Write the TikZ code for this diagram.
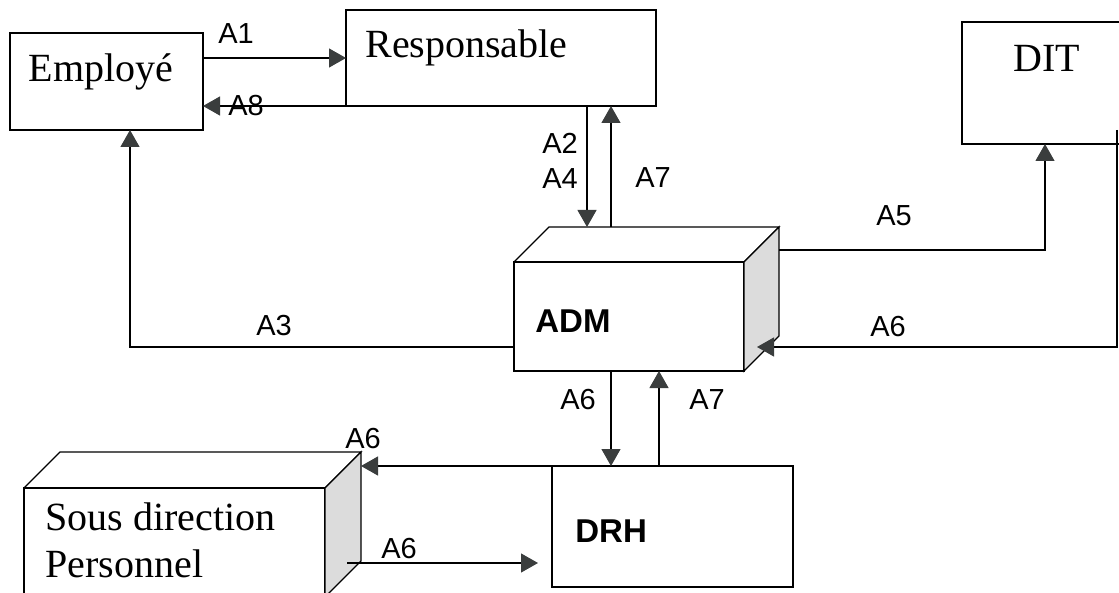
\documentclass[tikz,border=0pt]{standalone}
\usepackage{fontspec}
\setmainfont{Liberation Serif}
\setsansfont{Liberation Sans}
\usetikzlibrary{arrows.meta,positioning,calc}
\definecolor{tipgray}{HTML}{3A3D3D}
\definecolor{sidegray}{HTML}{DCDCDC}
\tikzset{
  >={Triangle[length=8.5pt,width=9.5pt,color=tipgray]},
  box/.style={draw, line width=0.7pt, inner sep=0pt, outer sep=0pt, anchor=north west},
  flow/.style={line width=0.6pt},
  lbl/.style={font=\fontsize{14.5}{16}\sffamily, inner sep=0pt},
  boxtext/.style={font=\fontsize{20}{23.5}\selectfont, inner sep=0pt, anchor=base west},
  boldtext/.style={font=\fontsize{16.5}{18}\sffamily\bfseries, inner sep=0pt, anchor=base west},
}
\begin{document}
\begin{tikzpicture}[x=0.5pt, y=-0.5pt]
  \useasboundingbox (0,0) rectangle (1119,593);
  \clip (0,0) rectangle (1119,593);

  % boxes
  \node[box, minimum width=96.5pt, minimum height=48.5pt] (emp) at (10,33) {};
  \node[box, minimum width=155pt, minimum height=48pt] (resp) at (346,10) {};
  \node[box, minimum width=86.5pt, minimum height=61pt] (dit) at (962,22) {};
  \node[box, minimum width=115pt, minimum height=54.5pt] (adm) at (514,262) {};
  \node[box, minimum width=120.5pt, minimum height=60.5pt] (drh) at (552,466) {};
  \node[box, minimum width=150.5pt, minimum height=54.5pt] (sdp) at (24,488) {};

  % 3d faces
  \foreach \b/\d in {adm/35,sdp/36}{
    \coordinate (\b-bnw) at ($(\b.north west)+(\d,-\d)$);
    \coordinate (\b-bne) at ($(\b.north east)+(\d,-\d)$);
    \coordinate (\b-bse) at ($(\b.south east)+(\d,-\d)$);
    \draw[line width=0.7pt] (\b.north west) -- (\b-bnw) -- (\b-bne) -- (\b.north east);
    \draw[line width=0.7pt, fill=sidegray] (\b.north east) -- (\b-bne) -- (\b-bse) -- (\b.south east) -- cycle;
  }

  % texts
  \node[boxtext, anchor=base] (t-emp) at (101,82) {Employé};
  \node[boxtext] (t-resp) at (365,58) {Responsable};
  \node[boxtext] (t-dit) at (1013,72) {DIT};
  \node[boldtext] (t-adm) at (535,333) {ADM};
  \node[boldtext] (t-drh) at (575,542) {DRH};
  \node[boxtext] (t-sdp1) at (45,530) {Sous direction};
  \node[boxtext] (t-sdp2) at ($(t-sdp1.base west)+(0,47)$) {Personnel};

  % bends
  \coordinate (a2) at (587,0);
  \coordinate (a7) at (611,0);
  \coordinate (a7b) at (659,0);
  \coordinate (a5) at (1045,250);
  \coordinate (a6r) at (1117,347);
  \coordinate (a6top) at (1117,130);
  \coordinate (a3) at (130,347);
  \coordinate (a6l) at (347,563);
  \coordinate (admtip) at ($(adm.south east)+(13,-24)$);

  % connectors
  \draw[flow,->] (emp.east |- resp.west) -- (resp.west);
  \draw[flow,->] (resp.south west) -- (resp.south west -| emp.east);
  \draw[flow,->] (a2 |- resp.south) -- (a2 |- adm-bnw);
  \draw[flow,->] (a7 |- adm-bnw) -- (a7 |- resp.south);
  \draw[flow,->] (adm-bne |- a5) -- (a5) -- (a5 |- dit.south);
  \draw[flow,->] (a6top) -- (a6r) -- (admtip);
  \draw[flow,->] (adm.west |- a3) -- (a3) -- (a3 |- emp.south);
  \draw[flow,->] (a7 |- adm.south) -- (a7 |- drh.north);
  \draw[flow,->] (a7b |- drh.north) -- (a7b |- adm.south);
  \draw[flow,->] (drh.north west) -- (sdp-bne |- drh.north west);
  \draw[flow,->, shorten >=7pt] (a6l) -- (a6l -| drh.west);

  % flow labels
  \node[lbl] (l-a1) at (236,34) {A1};
  \node[lbl] (l-a8) at (246,106) {A8};
  \node[lbl] (l-a2) at (560,143) {A2};
  \node[lbl] (l-a4) at (560,179) {A4};
  \node[lbl] (l-a7) at (653,178) {A7};
  \node[lbl] (l-a5) at (894,216) {A5};
  \node[lbl] (l-a6r) at (888,327) {A6};
  \node[lbl] (l-a3) at (274,326) {A3};
  \node[lbl] (l-a6d) at (578,400) {A6};
  \node[lbl] (l-a7u) at (707,400) {A7};
  \node[lbl] (l-a6t) at (363,439) {A6};
  \node[lbl] (l-a6b) at (399,549) {A6};
\end{tikzpicture}
\end{document}
